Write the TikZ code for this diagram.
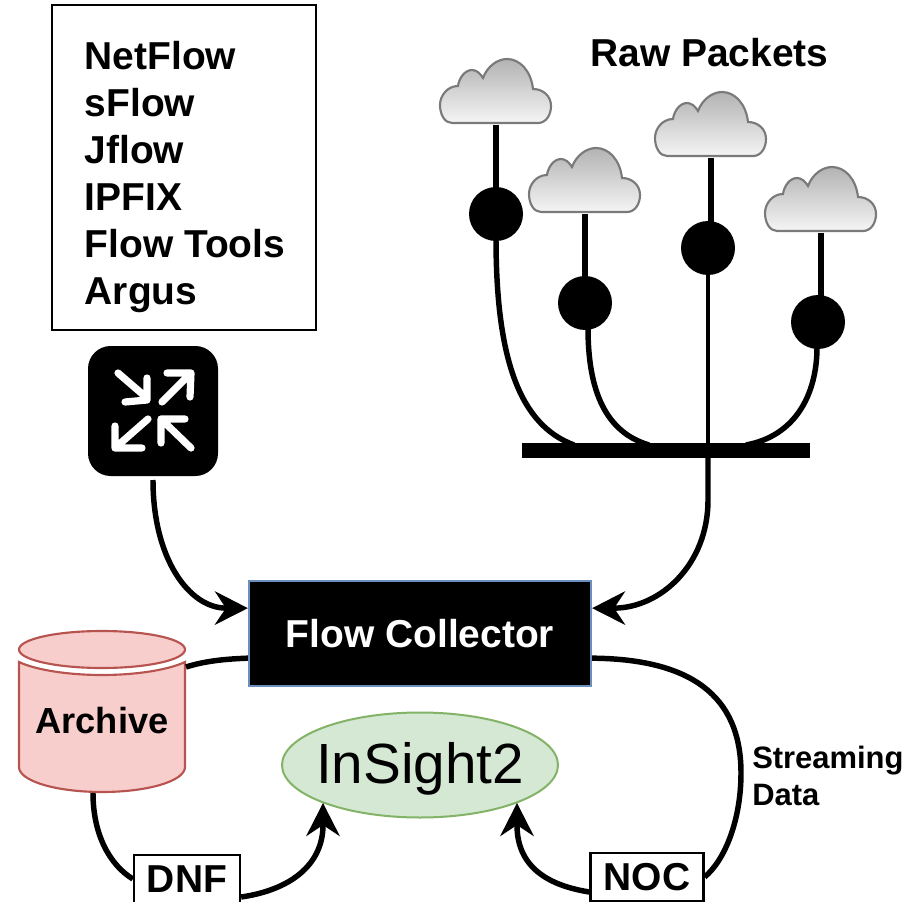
\documentclass[tikz,border=0pt]{standalone}
\usepackage{fontspec}
\setmainfont{Liberation Sans}
\usetikzlibrary{arrows.meta,shapes.geometric}
\definecolor{fcblue}{HTML}{6C8EBF}
\definecolor{arcfill}{HTML}{F8CECC}
\definecolor{arcline}{HTML}{B85450}
\definecolor{insfill}{HTML}{D5E8D4}
\definecolor{insline}{HTML}{82B366}
\tikzset{
  bigbold/.style={font=\fontsize{29.2}{35.25}\selectfont\bfseries},
  wire/.style={draw=black,line width=4.1pt},
  thinwire/.style={draw=black,line width=3.4pt},
  arrowwire/.style={wire,-{Stealth[length=25pt,width=25.5pt,inset=8.5pt,line width=0pt]}},
  tap/.style={circle,fill=black,minimum size=40.5pt,inner sep=0pt},
  labelbox/.style={draw=black,fill=white,line width=1.7pt,bigbold,inner sep=0pt,minimum height=36pt},
  whitearrow/.style={draw=white,line width=5.4pt,line cap=round,line join=round},
  cloudpic/.pic={
    \path[draw=black!52,line width=1.6pt,top color=black!30,bottom color=black!4]
      (12,0) -- (98,0) .. controls (106,0) and (111,-8) .. (111,-17)
      .. controls (111,-27) and (103,-34) .. (93,-34)
      .. controls (91,-52) and (80,-64) .. (67,-64)
      .. controls (57,-64) and (47,-56) .. (43,-45)
      .. controls (40,-50) and (36,-53) .. (32,-53)
      .. controls (25,-53) and (19,-45) .. (18,-37)
      .. controls (8,-37) and (0,-28) .. (0,-18)
      .. controls (0,-8) and (5,0) .. (12,0) -- cycle;
  }
}
\begin{document}
\begin{tikzpicture}[x=0.75pt,y=-0.75pt]
\useasboundingbox (0,0) rectangle (921,902);
\fill[white] (0,0) rectangle (921,902);

% flow list box
\node[draw=black,line width=1.5pt,minimum width=198pt,minimum height=243.75pt,inner sep=0pt] (listbox) at (184,167.5) {};
\node[bigbold,anchor=north west,align=left,inner sep=0pt] (listtext) at (84.5,41) {NetFlow\\sFlow\\Jflow\\IPFIX\\Flow Tools\\Argus};

% router icon
\node[fill=black,rounded corners=17pt,minimum size=97.5pt,inner sep=0pt] (router) at (153,411) {};
\draw[whitearrow] (118,373) -- (147,398) (147,378) -- (147,400) -- (125,402);
\draw[whitearrow] (162,402) -- (191,373) (167,373) -- (191,373) -- (190,397);
\draw[whitearrow] (148,419) -- (115,448) (115,426) -- (115,448) -- (142,448);
\draw[whitearrow] (191,448) -- (161,419) (185,419) -- (161,419) -- (161,443);

% raw packets
\node[bigbold,anchor=base] (rawtitle) at (709.5,66.5) {Raw Packets};
\pic at (440,123) {cloudpic};
\pic at (529,212) {cloudpic};
\pic at (655,156) {cloudpic};
\pic at (765,231) {cloudpic};
\coordinate (cl1) at (496,125);
\coordinate (cl2) at (585,214);
\coordinate (cl3) at (711,158);
\coordinate (cl4) at (821,233);
\node[tap] (c1) at (496,214) {};
\node[tap] (c2) at (585,303) {};
\node[tap] (c3) at (708,248) {};
\node[tap] (c4) at (818,322) {};
\node[fill=black,minimum width=216pt,minimum height=11.25pt,inner sep=0pt] (bar) at (666,450.5) {};
\coordinate (b1) at (574,445);
\coordinate (b2) at (649,445);
\coordinate (b4) at (746,445);
\draw[wire] (cl1) -- (496,190);
\draw[wire] (cl2) -- (585,280);
\draw[wire] (cl3) -- (711,225);
\draw[wire] (cl4) -- (821,300);
\draw[wire] (496,238) .. controls (496,360) and (520,425) .. (b1);
\draw[wire] (588,328) .. controls (588,390) and (605,432) .. (b2);
\draw[wire] (817,347) .. controls (817,395) and (795,436) .. (b4);

% main nodes
\node[fill=black,draw=fcblue,line width=1.7pt,minimum width=256.5pt,minimum height=78.75pt,inner sep=0pt,text=white,bigbold] (fc) at (420,633.5) {Flow Collector};
\node[ellipse,fill=insfill,draw=insline,line width=1.5pt,minimum width=207pt,minimum height=78.75pt,inner sep=0pt,font=\fontsize{42.5}{50}\selectfont] (insight) at (420,765) {\raisebox{-14.1pt}[0pt][0pt]{\makebox[0pt]{InSight2}}};

% archive
\path[fill=arcfill,draw=arcline,line width=1.6pt]
  (19,662) .. controls (36,670) and (68,675) .. (102,675) .. controls (136,675) and (168,670) .. (185,662)
  -- (185,767) .. controls (185,781) and (148,792) .. (102,792) .. controls (56,792) and (19,781) .. (19,767) -- cycle;
\path[fill=arcfill,draw=arcline,line width=1.6pt] (102,649.5) ellipse [x radius=83,y radius=18.5];
\node[font=\fontsize{27.2}{32}\selectfont\bfseries,inner sep=0pt] (archive) at (102,721) {Archive};
\coordinate (arcside) at (186,667);
\coordinate (arcbottom) at (93,793);

% label boxes
\node[labelbox,minimum width=79.5pt] (dnf) at (187,879) {DNF};
\node[labelbox,minimum width=84.75pt] (noc) at (647,877) {NOC};
\node[font=\fontsize{23.2}{27.75}\selectfont\bfseries,anchor=north west,align=left,inner sep=0pt] (stream) at (752,746) {Streaming\\Data};

% connectors
\draw[thinwire] (c3.south) -- (708,470);
\draw[arrowwire] (153,480) .. controls (153,560) and (190,608) .. ([yshift=19pt]fc.west);
\draw[arrowwire] (708,455) -- (708,500) .. controls (708,565) and (660,608) .. ([yshift=19pt]fc.east);
\draw[wire] ([yshift=-18.5pt]fc.west) .. controls (225,659) and (205,661) .. (arcside);
\draw[wire] ([yshift=-18.5pt]fc.east) .. controls (690,659) and (741,695) .. (741,773) .. controls (741,820) and (725,860) .. (noc.east);
\draw[wire] (arcbottom) .. controls (93,835) and (110,865) .. (dnf.west);
\draw[arrowwire] ([yshift=-13.5pt]dnf.east) .. controls (290,890) and (323,865) .. (323,803);
\draw[arrowwire] ([yshift=-11.25pt]noc.west) .. controls (545,885) and (517,865) .. (517,803);
\end{tikzpicture}
\end{document}
